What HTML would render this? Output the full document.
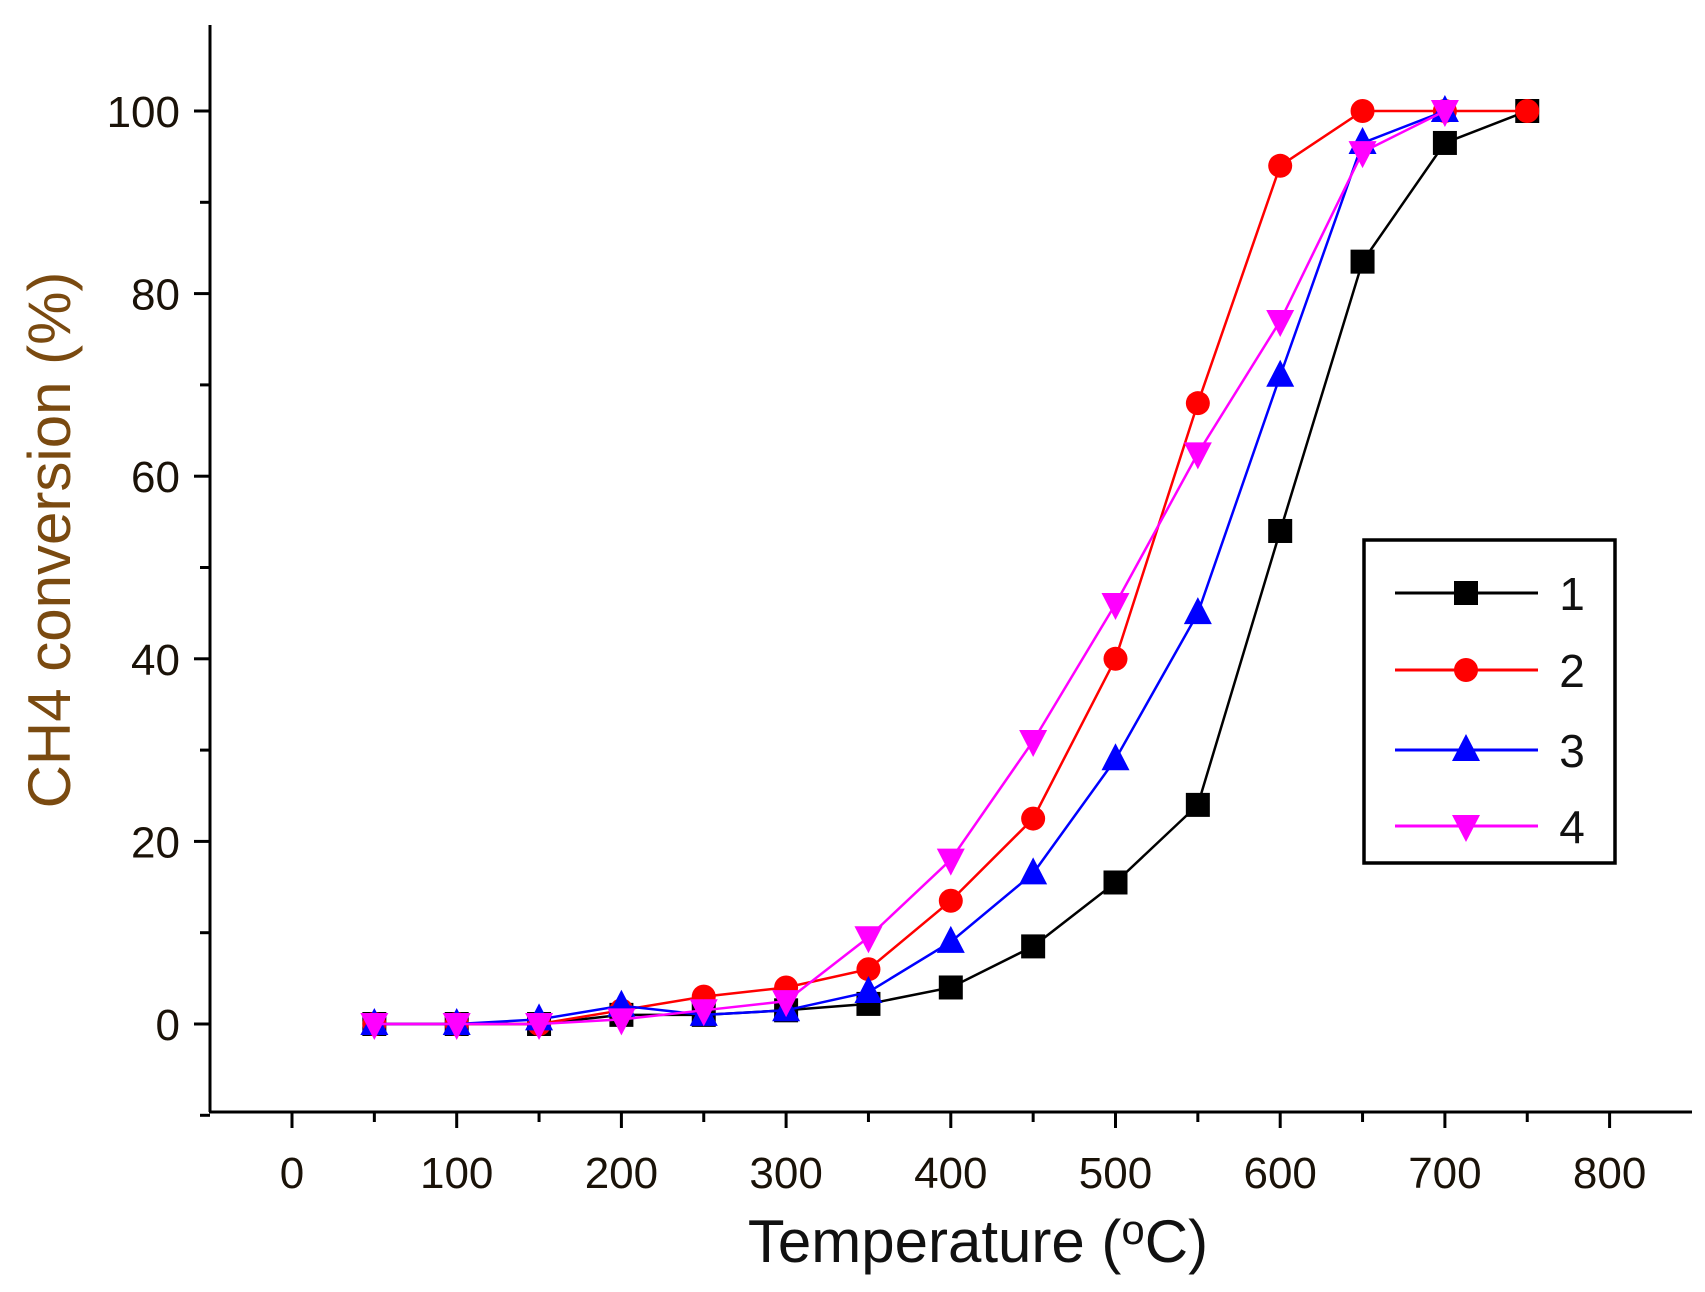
<!DOCTYPE html>
<html><head><meta charset="utf-8"><style>
html,body{margin:0;padding:0;background:#fff;}
svg{display:block;}
text{font-family:"Liberation Sans",sans-serif;}
</style></head><body>
<svg id="s" width="1705" height="1292" xmlns="http://www.w3.org/2000/svg"></svg>
<script>
var s=document.getElementById('s');var h='';
function X(t){return 292+t*1.647;}function Y(v){return 1024-v*9.13;}
h+='<line x1="210" y1="25" x2="210" y2="1112" stroke="#000" stroke-width="3"/>';
h+='<line x1="209" y1="1112" x2="1692" y2="1112" stroke="#000" stroke-width="3"/>';
for(var t=-50;t<=850;t+=50){var x=X(t);if(x<210||x>1690)continue;h+='<line x1="'+x+'" y1="1112" x2="'+x+'" y2="'+(t%100==0?1128:1122)+'" stroke="#000" stroke-width="3"/>';
if(t%100==0&&t>=0)h+='<text x="'+x+'" y="1188" font-size="44" text-anchor="middle" fill="#1a1208">'+t+'</text>';}
for(var v=-10;v<=110;v+=10){var y=Y(v);if(y<25)continue;h+='<line x1="'+(v%20==0?194:200)+'" y1="'+y+'" x2="210" y2="'+y+'" stroke="#000" stroke-width="3"/>';
if(v%20==0&&v>=0)h+='<text x="180" y="'+(y+16)+'" font-size="44" text-anchor="end" fill="#1a1208">'+v+'</text>';}
h+='<text x="978" y="1262" font-size="60" text-anchor="middle" fill="#111">Temperature (<tspan font-size="42" dy="-18">o</tspan><tspan dy="18">C)</tspan></text>';
h+='<text transform="translate(70,540) rotate(-90)" font-size="60" text-anchor="middle" fill="#7a4a10">CH4 conversion (%)</text>';
var T=[50,100,150,200,250,300,350,400,450,500,550,600,650,700,750];
var S=[
{c:'#000',m:'sq',d:[0,0,0,1,1,1.5,2.2,4,8.5,15.5,24,54,83.5,96.5,100]},
{c:'#f00',m:'ci',d:[0,0,0,1.5,3,4,6,13.5,22.5,40,68,94,100,100,100]},
{c:'#00f',m:'up',d:[0,0,0.5,2,1,1.5,3.5,9,16.5,29,45,71,96.5,100]},
{c:'#f0f',m:'dn',d:[0,0,0,0.5,1.5,2.5,9.5,18,31,46,62.5,77,95.5,100]}];
function mk(m,x,y,c){if(m=='sq')return '<rect x="'+(x-12)+'" y="'+(y-12)+'" width="24" height="24" fill="'+c+'"/>';
if(m=='ci')return '<circle cx="'+x+'" cy="'+y+'" r="12" fill="'+c+'"/>';
if(m=='up')return '<polygon points="'+x+','+(y-16)+' '+(x-14)+','+(y+11)+' '+(x+14)+','+(y+11)+'" fill="'+c+'"/>';
return '<polygon points="'+x+','+(y+16)+' '+(x-14)+','+(y-11)+' '+(x+14)+','+(y-11)+'" fill="'+c+'"/>';}
S.forEach(function(q){var p=q.d.map(function(v,i){return X(T[i])+','+Y(v);}).join(' ');
h+='<polyline points="'+p+'" fill="none" stroke="'+q.c+'" stroke-width="2.5"/>';
q.d.forEach(function(v,i){h+=mk(q.m,X(T[i]),Y(v),q.c);});});
h+='<rect x="1364" y="540" width="251" height="323" fill="#fff" stroke="#000" stroke-width="3.5"/>';
var ly=[593,670,750,826];
S.forEach(function(q,i){h+='<line x1="1395" y1="'+ly[i]+'" x2="1538" y2="'+ly[i]+'" stroke="'+q.c+'" stroke-width="3"/>'+mk(q.m,1466,ly[i],q.c)+'<text x="1572" y="'+(ly[i]+17)+'" font-size="46" text-anchor="middle" fill="#111">'+(i+1)+'</text>';});
s.innerHTML=h;
</script>
</body></html>
